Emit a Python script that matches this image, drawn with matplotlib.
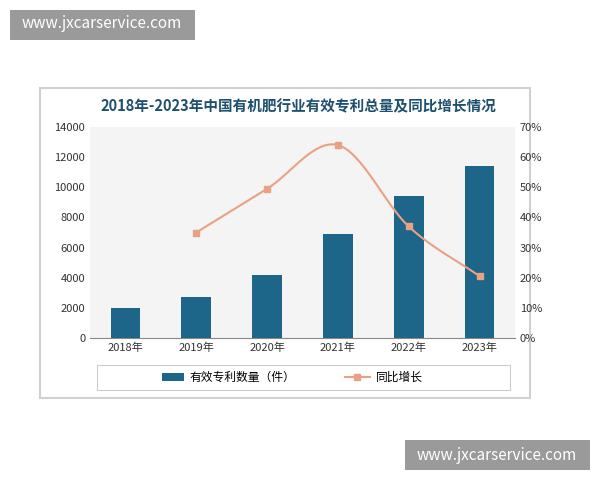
import numpy as np
import matplotlib.pyplot as plt
from matplotlib.patches import Rectangle

plt.rcParams['font.family'] = ['Noto Sans CJK SC', 'DejaVu Sans']

years = ['2018年', '2019年', '2020年', '2021年', '2022年', '2023年']
patents = [2000, 2750, 4150, 6900, 9450, 11400]
growth_years = [1, 2, 3, 4, 5]
growth = [35.0, 49.5, 64.0, 37.0, 20.5]

bar_color = '#1d6589'
line_color = '#e8a283'


def catmull_rom(xs, ys, n=30):
    xs = np.asarray(xs, float)
    ys = np.asarray(ys, float)
    px = np.concatenate([[2 * xs[0] - xs[1]], xs, [2 * xs[-1] - xs[-2]]])
    py = np.concatenate([[2 * ys[0] - ys[1]], ys, [2 * ys[-1] - ys[-2]]])
    ox, oy = [], []
    t = np.linspace(0, 1, n)
    for i in range(1, len(px) - 2):
        for p, o in ((px, ox), (py, oy)):
            p0, p1, p2, p3 = p[i - 1:i + 3]
            o.extend(0.5 * (2 * p1 + (-p0 + p2) * t + (2 * p0 - 5 * p1 + 4 * p2 - p3) * t ** 2
                            + (-p0 + 3 * p1 - 3 * p2 + p3) * t ** 3))
    return np.array(ox), np.array(oy)


fig = plt.figure(figsize=(6, 4.8), dpi=100)
fig.patches.append(Rectangle((40 / 600, 1 - 398 / 480), 490 / 600, 310 / 480, transform=fig.transFigure,
                             facecolor='white', edgecolor='#d0d0d0', lw=1.5, zorder=-5))
fig.patches.append(Rectangle((10 / 600, 1 - 40 / 480), 185 / 600, 30 / 480, transform=fig.transFigure,
                             facecolor='#9a9a9a', edgecolor='none'))
fig.text(102 / 600, 1 - 24 / 480, 'www.jxcarservice.com', color='white', fontsize=11, ha='center', va='center')
fig.patches.append(Rectangle((405 / 600, 1 - 470 / 480), 185 / 600, 30 / 480, transform=fig.transFigure,
                             facecolor='#9a9a9a', edgecolor='none'))
fig.text(497 / 600, 1 - 455 / 480, 'www.jxcarservice.com', color='white', fontsize=11, ha='center', va='center')

fig.text(298 / 600, 1 - 106 / 480, '2018年-2023年中国有机肥行业有效专利总量及同比增长情况', ha='center', va='center',
         fontsize=10.5, fontweight='bold', color='#1d4f6e')

ax = fig.add_axes([90 / 600, 1 - 338 / 480, 425 / 600, 211 / 480])
ax.set_facecolor('#f4f4f4')
x = np.arange(len(years))
ax.bar(x, patents, width=0.42, color=bar_color, label='有效专利数量（件）', zorder=3)
ax.set_ylim(0, 14000)
ax.set_yticks(range(0, 14001, 2000))
ax.set_xlim(-0.5, 5.5)
ax.set_xticks(x)
ax.set_xticklabels(years)
ax.tick_params(labelsize=8, length=0, colors='#333333')
for s in ax.spines.values():
    s.set_visible(False)
ax.spines['bottom'].set_visible(True)
ax.spines['bottom'].set_color('#888888')

ax2 = ax.twinx()
sx, sy = catmull_rom(growth_years, growth)
ax2.plot(sx, sy, color=line_color, lw=1.5, zorder=4)
ax2.plot(growth_years, growth, 's', color=line_color, ms=5, zorder=5)
ax2.set_ylim(0, 70)
ax2.set_yticks(range(0, 71, 10))
ax2.set_yticklabels([f'{v}%' for v in range(0, 71, 10)])
ax2.tick_params(labelsize=8, length=0, colors='#333333')
for s in ax2.spines.values():
    s.set_visible(False)

# legend
fig.patches.append(Rectangle((97 / 600, 1 - 390 / 480), 413 / 600, 25 / 480, transform=fig.transFigure,
                             facecolor='white', edgecolor='#cccccc', lw=0.8))
fig.patches.append(Rectangle((162 / 600, 1 - 381 / 480), 22 / 600, 8 / 480, transform=fig.transFigure,
                             facecolor=bar_color, edgecolor='none'))
fig.text(190 / 600, 1 - 377 / 480, '有效专利数量（件）', fontsize=8.5, va='center')
fig.lines.append(plt.Line2D([345 / 600, 370 / 600], [1 - 377 / 480] * 2, transform=fig.transFigure,
                            color=line_color, lw=1.5))
fig.lines.append(plt.Line2D([357 / 600], [1 - 377 / 480], transform=fig.transFigure,
                            color=line_color, marker='s', ms=5))
fig.text(376 / 600, 1 - 377 / 480, '同比增长', fontsize=8.5, va='center')

fig.savefig('out.png', dpi=100)
